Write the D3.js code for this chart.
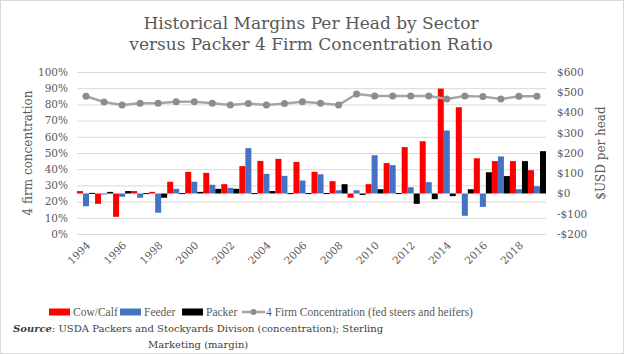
<!DOCTYPE html>
<meta charset="utf-8">
<html>
<head>
  <script src="https://cdn.jsdelivr.net/npm/d3@7"></script>
  <style>
    body { margin: 0; background: #fff; }
    text { font-family: 'DejaVu Serif', serif; fill: #595959; }
    .axis path { display: none; }
    .axis line { display: none; }
    .axis text { font-size: 10.5px; fill: #595959; }
    .grid line { stroke: #d9d9d9; stroke-width: 1; }
    .grid path { display: none; }
    .legend text { font-family: 'Liberation Serif', serif; font-size: 11.5px; }
  </style>
</head>
<body>
<script>
  // data
  var years = d3.range(1994, 2020);
  var cowCalf = [12, -51, -115, 12, 8, 58, 107, 102, 46, 135, 161, 171, 156, 107, 61, -21, 46, 150, 229, 258, 518, 426, 174, 160, 160, 115];
  var feeder = [-63, -2, -16, -21, -95, 23, 58, 43, 28, 224, 97, 87, 64, 95, 16, 16, 189, 140, 31, 56, 311, -110, -66, 183, 21, 36];
  var packer = [3, 8, 12, 2, -21, 2, 8, 23, 23, 2, 12, 2, 2, 2, 46, -7, 21, 2, -51, -28, -13, 21, 105, 86, 160, 209];
  var concentration = [0.85, 0.815, 0.796, 0.807, 0.807, 0.817, 0.817, 0.807, 0.796, 0.805, 0.796, 0.805, 0.817, 0.807, 0.796, 0.864, 0.852, 0.852, 0.852, 0.852, 0.833, 0.852, 0.848, 0.833, 0.85, 0.85];
  var yearLabels = d3.range(1994, 2020, 2);
  var series = ['Cow/Calf', 'Feeder', 'Packer'];
  var colors = ['#ff0000', '#4472c4', '#000000'];

  var W = 624, H = 354;
  var m = { top: 72, right: 78, bottom: 120, left: 77 };
  var w = W - m.left - m.right, h = H - m.top - m.bottom;

  var svg = d3.select('body').append('svg')
    .attr('width', W).attr('height', H);

  svg.append('rect')
    .attr('x', 0.5).attr('y', 0.5)
    .attr('width', W - 1).attr('height', H - 1)
    .attr('fill', '#fff').attr('stroke', '#d9d9d9');

  // title
  svg.append('text').attr('x', 311).attr('y', 29)
    .attr('text-anchor', 'middle').style('font-size', '17px')
    .text('Historical Margins Per Head by Sector');
  svg.append('text').attr('x', 311).attr('y', 50)
    .attr('text-anchor', 'middle').style('font-size', '17px')
    .text('versus Packer 4 Firm Concentration Ratio');

  var g = svg.append('g').attr('transform', `translate(${m.left},${m.top})`);

  var x = d3.scaleBand().domain(years).range([0, w]).padding(0);
  var x1 = d3.scaleBand().domain(series).range([0, x.bandwidth()]).padding(0);
  var yL = d3.scaleLinear().domain([0, 1]).range([h, 0]);
  var yR = d3.scaleLinear().domain([-200, 600]).range([h, 0]);

  // gridlines
  g.append('g').attr('class', 'grid')
    .call(d3.axisLeft(yL).ticks(10).tickSize(-w).tickFormat(''));

  // left axis
  g.append('g').attr('class', 'axis')
    .call(d3.axisLeft(yL).ticks(10).tickFormat(d3.format('.0%')).tickSize(0).tickPadding(9));

  // right axis
  g.append('g').attr('class', 'axis')
    .attr('transform', `translate(${w},0)`)
    .call(d3.axisRight(yR).ticks(8).tickSize(0).tickPadding(11)
      .tickFormat(d => (d < 0 ? '-$' : '$') + Math.abs(d)));

  // x axis labels
  g.append('g').attr('class', 'axis')
    .attr('transform', `translate(0,${h})`)
    .call(d3.axisBottom(x).tickValues(yearLabels).tickSize(0).tickPadding(0))
    .selectAll('text')
    .attr('text-anchor', 'end')
    .attr('dy', 0)
    .attr('transform', 'translate(5,12) rotate(-45)');

  // bars
  var data = years.map((yr, i) => ({ year: yr, vals: [cowCalf[i], feeder[i], packer[i]] }));
  var grp = g.selectAll('.yr').data(data).enter().append('g')
    .attr('transform', d => `translate(${x(d.year)},0)`);
  grp.selectAll('rect')
    .data(d => d.vals.map((v, k) => ({ key: series[k], v: v, c: colors[k] })))
    .enter().append('rect')
    .attr('x', d => x1(d.key))
    .attr('width', x1.bandwidth())
    .attr('y', d => yR(Math.max(0, d.v)))
    .attr('height', d => Math.max(1, Math.abs(yR(d.v) - yR(0))))
    .attr('fill', d => d.c);

  // concentration line
  var line = d3.line()
    .x((d, i) => x(years[i]) + x.bandwidth() / 2)
    .y(d => yL(d));
  g.append('path').datum(concentration)
    .attr('d', line).attr('fill', 'none')
    .attr('stroke', '#a5a5a5').attr('stroke-width', 2.5);
  g.selectAll('.dot').data(concentration).enter().append('circle')
    .attr('cx', (d, i) => x(years[i]) + x.bandwidth() / 2)
    .attr('cy', d => yL(d)).attr('r', 3.5)
    .attr('fill', '#8c8c8c');

  // axis titles
  svg.append('text')
    .attr('transform', `translate(32,${m.top + h / 2}) rotate(-90)`)
    .attr('text-anchor', 'middle').style('font-size', '12px')
    .text('4 firm concentration');
  svg.append('text')
    .attr('transform', `translate(605,${m.top + h / 2}) rotate(-90)`)
    .attr('text-anchor', 'middle').style('font-size', '12px')
    .text('$USD per head');

  // legend
  var lg = svg.append('g').attr('class', 'legend').attr('transform', 'translate(49,312)');
  var lx = [0, 71, 133];
  series.forEach((s, k) => {
    lg.append('rect').attr('x', lx[k]).attr('y', -3.5).attr('width', 21).attr('height', 7).attr('fill', colors[k]);
    lg.append('text').attr('x', lx[k] + 24).attr('y', 4).text(s);
  });
  lg.append('line').attr('x1', 193).attr('x2', 216).attr('y1', 0).attr('y2', 0)
    .attr('stroke', '#a5a5a5').attr('stroke-width', 2.5);
  lg.append('circle').attr('cx', 204.5).attr('cy', 0).attr('r', 3).attr('fill', '#8c8c8c');
  lg.append('text').attr('x', 217).attr('y', 4)
    .text('4 Firm Concentration (fed steers and heifers)');

  // source note
  var src = svg.append('text').attr('x', 13).attr('y', 332).style('font-size', '10px').style('fill', '#404040');
  src.append('tspan').style('font-weight', 'bold').style('font-style', 'italic').style('fill', '#404040').text('Source');
  src.append('tspan').style('fill', '#404040').text(': USDA Packers and Stockyards Divison (concentration);  Sterling');
  svg.append('text').attr('x', 148).attr('y', 348).style('font-size', '10px').style('fill', '#404040')
    .text('Marketing  (margin)');
</script>
</body>
</html>
